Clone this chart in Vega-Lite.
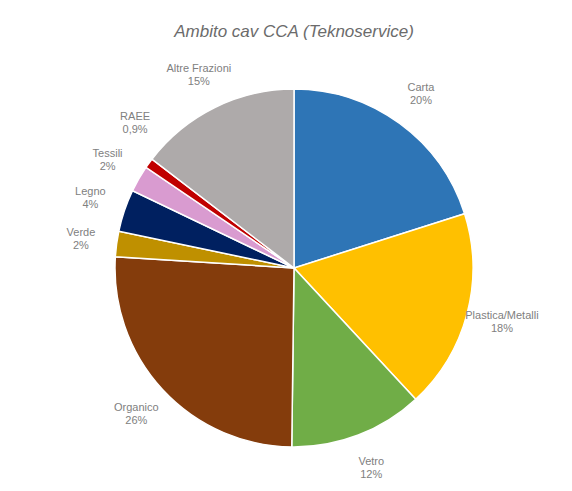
{
  "$schema": "https://vega.github.io/schema/vega-lite/v6.json",
  "width": 520,
  "height": 420,
  "autosize": {"type": "none"},
  "padding": {"left": 34, "top": 58, "right": 18, "bottom": 13},
  "background": "white",
  "view": {"stroke": null},
  "title": {
    "text": "Ambito cav CCA (Teknoservice)",
    "font": "Liberation Sans",
    "fontSize": 17,
    "fontStyle": "italic",
    "fontWeight": "normal",
    "color": "#6b6b6b",
    "frame": "group",
    "anchor": "middle",
    "offset": 4
  },
  "data": {
    "values": [
      {"name": "Carta", "value": 20.1, "pct": "20%"},
      {"name": "Plastica/Metalli", "value": 18.0, "pct": "18%"},
      {"name": "Vetro", "value": 12.1, "pct": "12%"},
      {"name": "Organico", "value": 25.8, "pct": "26%"},
      {"name": "Verde", "value": 2.3, "pct": "2%"},
      {"name": "Legno", "value": 3.8, "pct": "4%"},
      {"name": "Tessili", "value": 2.4, "pct": "2%"},
      {"name": "RAEE", "value": 0.9, "pct": "0,9%"},
      {"name": "Altre Frazioni", "value": 14.6, "pct": "15%"}
    ]
  },
  "transform": [{"window": [{"op": "row_number", "as": "idx"}]}],
  "encoding": {
    "theta": {"field": "value", "type": "quantitative", "stack": true},
    "order": {"field": "idx", "type": "quantitative"}
  },
  "layer": [
    {
      "mark": {"type": "arc", "radius": 179, "stroke": "white", "strokeWidth": 1.5},
      "encoding": {
        "color": {
          "field": "name",
          "type": "nominal",
          "legend": null,
          "scale": {
            "domain": ["Carta", "Plastica/Metalli", "Vetro", "Organico", "Verde", "Legno", "Tessili", "RAEE", "Altre Frazioni"],
            "range": ["#2E75B6", "#FFC000", "#70AD47", "#843C0C", "#BF9000", "#002060", "#D99BD0", "#C00000", "#AEAAAA"]
          }
        }
      }
    },
    {
      "mark": {"type": "text", "radius": 215, "dy": -6.5, "font": "Liberation Sans", "fontSize": 11, "color": "#808080", "align": "center", "baseline": "middle"},
      "encoding": {
        "text": {"field": "name", "type": "nominal"},
        "opacity": {"condition": {"test": "datum.name === 'RAEE'", "value": 0}, "value": 1}
      }
    },
    {
      "mark": {"type": "text", "radius": 215, "dy": 6.5, "font": "Liberation Sans", "fontSize": 11, "color": "#808080", "align": "center", "baseline": "middle"},
      "encoding": {
        "text": {"field": "pct", "type": "nominal"},
        "opacity": {"condition": {"test": "datum.name === 'RAEE'", "value": 0}, "value": 1}
      }
    },
    {
      "mark": {"type": "text", "radius": 212, "dx": 13, "dy": -26.5, "font": "Liberation Sans", "fontSize": 11, "color": "#808080", "align": "center", "baseline": "middle"},
      "encoding": {
        "text": {"field": "name", "type": "nominal"},
        "opacity": {"condition": {"test": "datum.name === 'RAEE'", "value": 1}, "value": 0}
      }
    },
    {
      "mark": {"type": "text", "radius": 212, "dx": 13, "dy": -13.5, "font": "Liberation Sans", "fontSize": 11, "color": "#808080", "align": "center", "baseline": "middle"},
      "encoding": {
        "text": {"field": "pct", "type": "nominal"},
        "opacity": {"condition": {"test": "datum.name === 'RAEE'", "value": 1}, "value": 0}
      }
    }
  ]
}
